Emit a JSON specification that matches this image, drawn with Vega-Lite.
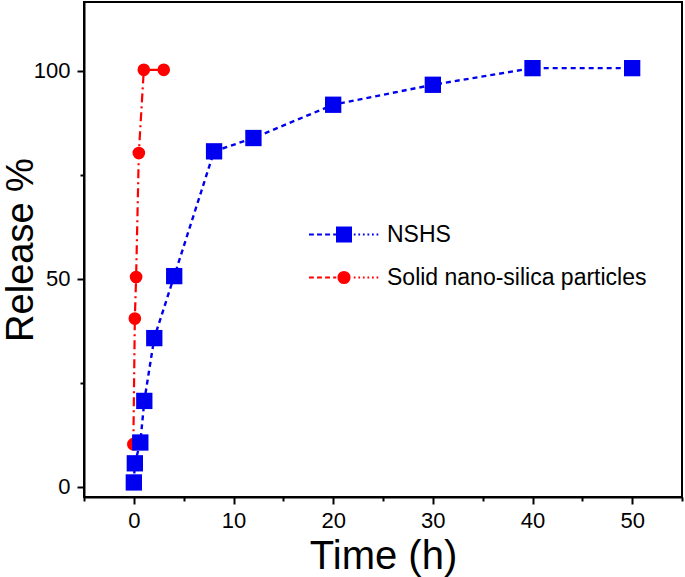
{
  "$schema": "https://vega.github.io/schema/vega-lite/v6.json",
  "autosize": {"type": "none"},
  "padding": {"left": 84, "top": 2, "right": 3, "bottom": 80},
  "width": 598,
  "height": 495,
  "config": {
    "font": "Liberation Sans",
    "view": {"stroke": "black", "strokeWidth": 2},
    "axis": {
      "domainColor": "black", "domainWidth": 2, "tickColor": "black", "tickWidth": 2,
      "labelColor": "black", "labelFont": "Liberation Sans", "labelFontSize": 22,
      "titleFont": "Liberation Sans", "titleFontWeight": "normal", "titleColor": "black",
      "grid": false
    },
    "legend": {
      "title": null, "symbolSize": 4900, "symbolStrokeWidth": 2, "symbolOpacity": 1,
      "labelFontSize": 23, "labelFont": "Liberation Sans", "labelColor": "black", "labelOffset": 7,
      "labelLimit": 0, "clipHeight": 43, "rowPadding": 0
    }
  },
  "data": {"values": [
    {"series": "Solid nano-silica particles", "time": -0.05, "release": 10.2},
    {"series": "Solid nano-silica particles", "time": 0.1, "release": 40.4},
    {"series": "Solid nano-silica particles", "time": 0.23, "release": 50.4},
    {"series": "Solid nano-silica particles", "time": 0.5, "release": 80.2},
    {"series": "Solid nano-silica particles", "time": 1, "release": 100.2},
    {"series": "Solid nano-silica particles", "time": 3, "release": 100.2},
    {"series": "NSHS", "time": 0, "release": 1},
    {"series": "NSHS", "time": 0.1, "release": 5.6},
    {"series": "NSHS", "time": 0.65, "release": 10.6},
    {"series": "NSHS", "time": 1.05, "release": 20.6},
    {"series": "NSHS", "time": 2.05, "release": 35.7},
    {"series": "NSHS", "time": 4.05, "release": 50.6},
    {"series": "NSHS", "time": 8.05, "release": 80.6},
    {"series": "NSHS", "time": 12, "release": 83.8},
    {"series": "NSHS", "time": 20, "release": 91.8},
    {"series": "NSHS", "time": 30, "release": 96.6},
    {"series": "NSHS", "time": 40, "release": 100.6},
    {"series": "NSHS", "time": 50, "release": 100.6}
  ]},
  "encoding": {
    "x": {"field": "time", "type": "quantitative",
      "scale": {"domain": [-5, 55], "nice": false, "zero": false},
      "axis": {"title": "Time (h)", "titleFontSize": 40, "values": [-5, 0, 5, 10, 15, 20, 25, 30, 35, 40, 45, 50, 55],
        "labelExpr": "datum.value % 10 === 0 ? datum.label : ''",
        "tickSize": {"condition": {"test": "datum.value % 10 === 0", "value": 7}, "value": 4},
        "labelPadding": 6, "titlePadding": 5}},
    "y": {"field": "release", "type": "quantitative",
      "scale": {"domain": [-2.5, 116.5], "nice": false, "zero": false},
      "axis": {"title": "Release %", "titleFontSize": 38, "values": [0, 25, 50, 75, 100],
        "labelExpr": "datum.value % 50 === 0 ? datum.label : ''",
        "tickSize": {"condition": {"test": "datum.value % 50 === 0", "value": 7}, "value": 4},
        "labelPadding": 7, "titlePadding": -7}}
  },
  "layer": [
    {
      "transform": [{"filter": "datum.series === 'Solid nano-silica particles'"}],
      "mark": {"type": "line", "strokeWidth": 2.2, "color": "#ff0000", "strokeDash": [9, 4, 2, 4]},
      "encoding": {}
    },
    {
      "transform": [{"filter": "datum.series === 'Solid nano-silica particles'"}],
      "mark": {"type": "point", "filled": true, "opacity": 1, "strokeWidth": 0, "shape": "circle", "size": 160, "color": "#ff0000"},
      "encoding": {}
    },
    {
      "transform": [{"filter": "datum.series === 'NSHS'"}],
      "mark": {"type": "line", "strokeWidth": 2.4, "color": "#0000f0", "strokeDash": [5, 4]},
      "encoding": {}
    },
    {
      "transform": [{"filter": "datum.series === 'NSHS'"}],
      "mark": {"type": "point", "filled": true, "opacity": 1, "strokeWidth": 0, "shape": "square", "size": 266, "color": "#0000f0"},
      "encoding": {}
    },
    {
      "mark": {"type": "point", "filled": true, "opacity": 0},
      "encoding": {
        "fill": {"field": "series", "type": "nominal", "scale": {"domain": ["NSHS", "Solid nano-silica particles"], "range": ["#0000f0", "#ff0000"]},
          "legend": {"orient": "none", "legendX": 224, "legendY": 211}},
        "stroke": {"field": "series", "type": "nominal", "scale": {"domain": ["NSHS", "Solid nano-silica particles"], "range": ["#0000f0", "#ff0000"]},
          "legend": {"orient": "none", "legendX": 224, "legendY": 211}},
        "shape": {"field": "series", "type": "nominal",
          "scale": {"domain": ["NSHS", "Solid nano-silica particles"], "range": [
            "M-1,0H-0.86M-0.77,0H-0.63M-0.54,0H-0.4M-0.31,0H-0.22M-0.2,-0.2H0.2V0.2H-0.2ZM0.28,0H0.33M0.41,0H0.46M0.54,0H0.59M0.67,0H0.72M0.8,0H0.85M0.93,0H0.98",
            "M-1,0H-0.86M-0.77,0H-0.63M-0.54,0H-0.4M-0.31,0H-0.22M-0.16,0A0.16,0.16 0 1,0 0.16,0A0.16,0.16 0 1,0 -0.16,0ZM0.28,0H0.33M0.41,0H0.46M0.54,0H0.59M0.67,0H0.72M0.8,0H0.85M0.93,0H0.98"]},
          "legend": {"orient": "none", "legendX": 224, "legendY": 211}}
      }
    }
  ]
}
